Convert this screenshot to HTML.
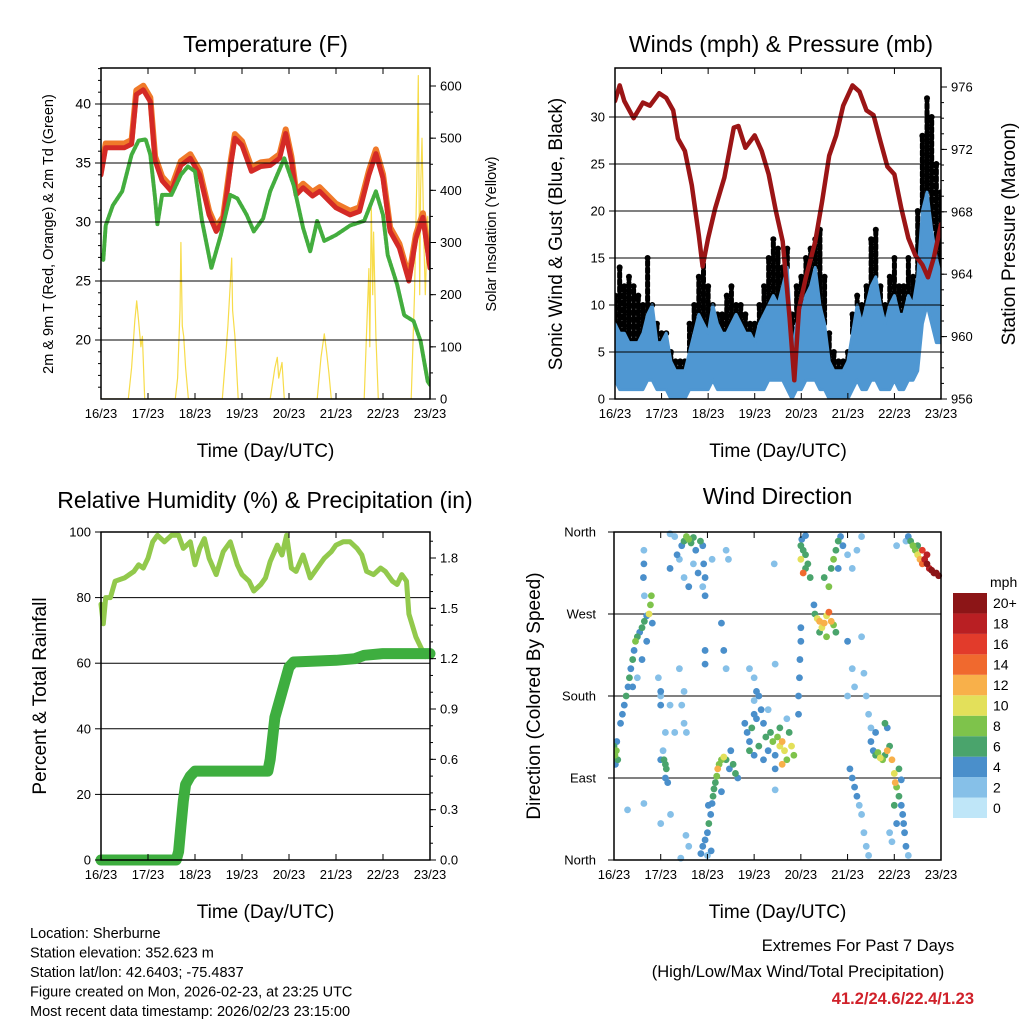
<!DOCTYPE html>
<html><head><meta charset="utf-8"><style>
html,body{margin:0;padding:0;background:#fff;}
svg{display:block;font-family:"Liberation Sans",sans-serif;}
</style></head><body>
<svg id="c" width="1024" height="1024" viewBox="0 0 1024 1024"></svg>
<script>
// ---------- DATA ----------
const dayLabels=["16/23","17/23","18/23","19/23","20/23","21/23","22/23","23/23"];
const tempT=[0,0.1,0.5,0.65,0.75,0.9,1.05,1.15,1.3,1.5,1.7,1.9,2.1,2.3,2.45,2.6,2.75,2.85,3.0,3.2,3.4,3.6,3.8,3.93,4.05,4.15,4.3,4.5,4.65,4.85,5.0,5.3,5.5,5.7,5.85,6.0,6.15,6.35,6.55,6.7,6.85,7.0];
const tempRed=[34,36.3,36.3,36.6,40.8,41.2,40.2,35.2,33.5,32.6,34.8,35.4,34.0,30.6,29.2,30.1,34.6,37.1,36.5,34.3,34.7,34.8,35.4,37.5,35.2,32.3,32.9,32.2,32.6,31.8,31.2,30.6,30.9,34.0,35.8,33.7,29.2,27.8,25.0,28.6,30.4,26.1];
const dewT=[0,0.05,0.1,0.25,0.45,0.65,0.8,0.95,1.05,1.15,1.2,1.3,1.5,1.7,1.85,2.0,2.15,2.35,2.55,2.75,2.9,3.1,3.25,3.45,3.6,3.9,4.1,4.3,4.45,4.6,4.75,5.0,5.3,5.6,5.85,6.0,6.1,6.3,6.45,6.65,6.8,6.95,7.0];
const dewVal=[27.2,26.8,29.7,31.4,32.6,35.7,36.9,37.0,35.7,32.0,29.8,32.3,32.3,34.0,34.7,34.3,30.1,26.1,28.9,32.3,32.0,30.6,29.2,30.3,32.6,35.4,33.1,29.5,27.5,30.1,28.4,28.9,29.7,30.1,32.6,30.6,27.2,24.7,22.1,21.6,19.9,16.5,16.2];
const solarT=[0,0.58,0.65,0.72,0.76,0.8,0.85,0.88,0.93,1.58,1.63,1.68,1.7,1.73,1.76,1.8,1.86,2.58,2.65,2.7,2.78,2.8,2.85,2.92,3.6,3.7,3.75,3.78,3.85,3.9,4.6,4.68,4.75,4.8,4.85,4.9,5.6,5.65,5.7,5.72,5.75,5.78,5.8,5.85,5.9,6.6,6.67,6.72,6.75,6.78,6.8,6.83,6.87,6.9,6.95,7.0];
const solarVal=[0,0,60,150,188,150,100,120,0,0,40,170,300,140,120,60,0,0,80,140,270,170,120,0,0,60,80,40,70,0,0,80,125,90,50,0,0,130,250,100,370,200,320,120,0,0,200,420,620,200,400,500,300,200,350,250];
const presT=[0,0.1,0.2,0.4,0.6,0.75,0.95,1.1,1.25,1.35,1.5,1.65,1.8,1.88,2.0,2.15,2.35,2.55,2.65,2.8,3.0,3.15,3.3,3.45,3.6,3.75,3.85,3.95,4.1,4.3,4.45,4.6,4.75,4.9,5.1,5.25,5.4,5.55,5.7,5.85,6.0,6.15,6.3,6.45,6.6,6.72,6.85,7.0];
const presVal=[975.1,976.1,975.1,974.0,975.0,974.8,975.6,975.3,974.5,972.7,971.9,969.7,966.5,964.5,966.3,968.2,970.2,973.4,973.5,972.1,972.9,971.9,970.4,968.1,966.1,961.2,957.2,961.8,963.8,966.1,968.7,971.6,972.9,974.8,976.1,975.7,974.5,974.2,972.5,970.9,970.4,968.2,966.3,965.2,964.6,963.8,965.1,967.2];
// wind sampled every 0.1 day
const gustVal=[11,14,12,13,12,11,10,15,10,8,7,7,5,4,4,4,8,10,13,15,12,10,9,9,11,12,10,10,9,8,8,10,12,15,17,16,14,16,9,12,13,15,16,17,18,13,7,5,4,4,5,9,11,10,12,17,18,12,10,13,15,12,12,15,13,20,28,32,30,25,22];
const windMax=[8,7,7,6,6,6,7,9,10,6,6,7,4,3,3,3,5,7,9,8,7,10,8,7,7,8,9,8,7,7,6,8,9,10,11,10,12,14,5,8,9,11,12,14,10,8,4,3,3,3,4,7,10,8,10,12,13,10,8,10,11,9,9,11,10,13,20,22,18,15,13];
const windMin=[2,1,1,1,1,1,1,2,2,1,1,1,0,0,0,0,1,1,1,1,1,2,1,1,1,1,1,1,1,1,1,1,1,2,2,2,2,1,0,1,1,2,2,2,1,1,0,0,0,0,0,1,2,1,1,2,2,1,1,1,2,1,1,2,2,3,8,10,8,6,6];
const rhT=[0,0.05,0.1,0.2,0.3,0.5,0.7,0.8,0.9,1.0,1.1,1.2,1.35,1.5,1.65,1.75,1.9,2.0,2.1,2.2,2.3,2.45,2.6,2.75,2.9,3.0,3.15,3.25,3.4,3.5,3.6,3.75,3.85,3.95,4.05,4.15,4.3,4.45,4.6,4.75,4.9,5.0,5.15,5.3,5.45,5.55,5.65,5.8,5.95,6.05,6.2,6.3,6.4,6.5,6.55,6.7,6.8,6.9,7.0];
const rhVal=[78,72,80,80,85,86,88,90,89,92,97,99,97,99,99,95,97,90,95,98,92,87,94,97,90,87,85,82,84,86,91,96,93,99,89,88,93,86,89,92,94,96,97,97,95,93,88,87,89,88,85,84,87,85,75,68,65,62,63];
const rainT=[0,1.6,1.65,1.7,1.75,1.8,1.9,2.0,3.55,3.6,3.7,3.8,3.9,4.0,4.1,5.0,5.4,5.6,6.0,7.0];
const rainVal=[0,0,0.05,0.2,0.35,0.45,0.5,0.53,0.53,0.6,0.85,0.95,1.05,1.15,1.18,1.19,1.2,1.22,1.23,1.23];
const dirPts=[[0.0,125,6],[0.02,115,7],[0.05,120,8],[0.08,110,5],[0.03,105,4],[0.06,130,4],
[0.14,150,4],[0.18,160,3],[0.22,170,4],[0.26,180,6],[0.3,190,4],[0.33,200,5],[0.36,210,4],[0.4,220,6],[0.43,230,4],[0.46,240,7],[0.5,245,6],[0.55,250,4],[0.6,255,5],[0.65,262,6],[0.7,268,4],[0.75,270,10],[0.78,280,8],[0.8,290,7],[0.82,260,4],[0.7,240,4],[0.6,220,3],[0.5,200,2],[0.4,190,3],
[0.64,340,2],[0.64,325,3],[0.63,310,3],[0.65,290,1],[0.95,200,1],[1.0,180,2],[1.1,140,1],[1.2,170,2],[1.05,120,2],[1.0,110,3],
[1.07,110,6],[1.1,105,6],[1.12,100,5],[1.1,90,4],[1.15,85,3],[0.64,62,2],[0.29,55,1],[1.0,40,1],[1.21,50,1],[1.54,27,1],[1.6,15,2],[1.43,2,2],
[1.5,350,6],[1.55,355,7],[1.6,352,8],[1.65,348,6],[1.7,354,5],[1.85,350,6],[1.9,345,4],[1.45,345,3],[1.75,340,4],[1.3,355,2],[1.2,358,2],[1.35,335,3],[1.4,330,2],[1.2,320,3],[1.5,310,2],[1.6,300,3],[1.7,325,2],[1.8,315,3],[1.9,300,2],[2.1,330,2],[2.4,340,1],[2.45,330,1],
[1.92,325,4],[1.95,310,3],[1.95,290,3],[2.3,260,4],[2.35,230,3],[2.4,210,2],[1.95,230,4],[1.95,215,3],
[1.4,210,1],[1.5,185,1],[1.45,170,2],[1.5,150,1],[1.55,140,1],[1.3,140,2],[1.0,185,3],[1.0,170,3],
[1.86,7,4],[1.9,15,4],[1.95,22,4],[2.0,30,4],[2.03,40,5],[2.07,50,4],[2.1,62,4],[2.12,70,6],[2.14,78,6],[2.17,85,6],[2.2,92,7],[2.22,100,12],[2.25,105,8],[2.3,110,8],[2.35,113,10],[2.4,110,6],[2.47,100,4],[2.55,105,6],[2.6,95,6],[2.65,90,4],[2.3,75,3],[2.5,120,3],[2.0,5,2],[2.02,60,3],[2.08,10,3],
[2.8,150,4],[2.85,140,4],[2.9,130,4],[2.95,145,5],[3.0,160,4],[3.05,155,3],[3.0,175,2],[3.05,185,3],[3.1,180,4],[3.15,165,4],[3.2,150,4],[3.25,135,5],[2.9,120,6],[3.0,115,3],[3.1,125,5],[3.2,110,4],[3.3,120,4],[3.35,140,6],[3.4,130,7],[3.45,115,4],[3.5,135,8],[3.55,125,10],[3.6,130,12],[3.65,120,10],[3.7,110,8],[3.75,140,6],[3.8,125,10],[3.85,115,8],[3.6,105,12],[3.55,145,6],[3.45,100,4],[3.0,200,1],[2.9,210,1],[3.3,165,2],[3.7,155,2],
[3.45,215,2],[3.45,77,2],[3.95,160,4],[3.95,180,4],[3.97,200,4],[3.98,220,3],[4.0,240,4],[4.0,255,3],
[4.0,345,5],[4.05,340,6],[4.1,335,5],[4.0,330,10],[4.05,315,14],[4.1,320,5],[4.15,325,5],[4.2,310,6],[4.02,352,4],[4.1,356,4],[3.43,325,2],
[4.3,270,6],[4.35,265,10],[4.4,262,11],[4.45,255,9],[4.5,260,12],[4.55,268,10],[4.6,272,14],[4.65,262,11],[4.7,258,8],[4.75,250,6],[4.4,250,6],[4.55,245,7],[4.28,280,4],
[4.5,310,6],[4.6,300,7],[4.65,320,6],[4.7,330,7],[4.75,340,6],[4.8,350,5],[4.85,355,4],[4.8,320,3],[4.9,345,3],[5.0,335,2],[5.1,320,2],[5.2,340,2],[5.3,355,2],
[5.0,240,3],[5.1,210,2],[5.0,180,2],[5.15,190,2],[5.3,245,2],[5.35,205,2],[5.4,180,1],[5.45,160,2],[5.5,145,1],
[5.5,130,4],[5.55,120,4],[5.6,115,6],[5.65,118,8],[5.7,112,9],[5.75,110,8],[5.8,115,6],[5.85,120,12],[5.9,125,6],[5.8,150,6],[5.85,145,4],[5.6,140,4],
[5.05,100,4],[5.1,90,4],[5.15,80,3],[5.2,70,4],[5.25,60,2],[5.3,50,2],[5.35,30,1],[5.4,15,2],[5.45,5,1],
[5.95,110,12],[6.0,95,10],[6.02,85,12],[6.05,80,8],[6.1,70,6],[6.15,60,4],[6.18,50,4],[6.2,40,3],[6.22,30,3],[6.25,15,4],[6.3,5,2],[6.0,60,5],[6.05,40,4],[6.1,100,6],[6.15,88,4],[5.9,30,2],[5.95,20,2],
[6.3,355,4],[6.35,350,5],[6.4,345,8],[6.45,340,7],[6.5,335,9],[6.55,330,12],[6.6,325,14],[6.65,330,18],[6.7,325,20],[6.75,320,18],[6.8,318,22],[6.85,315,20],[6.9,315,22],[6.95,312,20],[6.6,340,16],[6.7,335,18],[6.5,345,6],[6.25,350,2],[6.05,345,2]];
const cbLabels=["0","2","4","6","8","10","12","14","16","18","20+"];
const cbColors=["#bfe6f8","#86c0e8","#4a8fcb","#4aa46c","#7ec34b","#e3e05a","#f8b04a","#f0692e","#e23b2b","#b91f23","#8c1517"];

// ---------- HELPERS ----------
const NS="http://www.w3.org/2000/svg";const svg=document.getElementById('c');
function mk(tag,attrs,parent){const e=document.createElementNS(NS,tag);for(const k in attrs)e.setAttribute(k,attrs[k]);(parent||svg).appendChild(e);return e;}
function txt(x,y,s,size,anchor,parent,extra){const e=mk('text',Object.assign({x:x,y:y,'font-size':size,'text-anchor':anchor||'middle',fill:'#000'},extra||{}),parent);e.textContent=s;return e;}
function lin(x0,x1,v0,v1){return v=>x0+(v-v0)/(v1-v0)*(x1-x0);}
function poly(xs,ys,fx,fy,attrs,parent){return mk('polyline',Object.assign({points:xs.map((t,i)=>fx(t).toFixed(1)+','+fy(ys[i]).toFixed(1)).join(' '),fill:'none','stroke-linejoin':'round','stroke-linecap':'round'},attrs),parent);}

function frame(name){
  const g=mk('g',{});return g;}
function xAxis(g,L,R,T,B){
  const fx=lin(L,R,0,7);
  for(let i=0;i<8;i++){const x=fx(i);
    mk('line',{x1:x,x2:x,y1:B,y2:B-6,stroke:'#000','stroke-width':1},g);
    mk('line',{x1:x,x2:x,y1:T,y2:T+6,stroke:'#000','stroke-width':1},g);
    const t=txt(x,B+19,dayLabels[i],13,'middle',g);}
  const xl=txt((L+R)/2,B+58,"Time (Day/UTC)",19,'middle',g);
  return fx;}
function yTicks(g,x,side,fy,vals,labels,minor,size,off){
  const d=side<0?-1:1;const o=off||10;
  vals.forEach((v,i)=>{const y=fy(v);mk('line',{x1:x,x2:x+d*6,y1:y,y2:y,stroke:'#000'},g);
    const t=txt(x+d*o,y+4.5,labels[i],size||13,d<0?'end':'start',g);});
  (minor||[]).forEach(v=>{const y=fy(v);mk('line',{x1:x,x2:x+d*3,y1:y,y2:y,stroke:'#000'},g);});}
function border(g,L,R,T,B){const r=mk('rect',{x:L,y:T,width:R-L,height:B-T,fill:'none',stroke:'#000','stroke-width':1.5},g);}
function grid(g,L,R,fy,vals){vals.forEach(v=>{mk('line',{x1:L,x2:R,y1:fy(v),y2:fy(v),stroke:'#000','stroke-width':1},g);});}
function range(a,b,s){const r=[];for(let v=a;v<=b+1e-9;v+=s)r.push(+v.toFixed(3));return r;}

// ---------- PANEL 1: TEMPERATURE ----------
(function(){
  const L=101,R=430,T=68,B=399;const g=frame('temperature-panel');
  const fx=lin(L,R,0,7),fy=lin(340,104,20,40),fs=lin(399,86,0,600);
  const cp=mk('clipPath',{id:'cp1'},g);mk('rect',{x:L,y:T,width:R-L,height:B-T},cp);
  const d=mk('g',{'clip-path':'url(#cp1)'},g);
  const s=poly(solarT,solarVal,fx,fs,{stroke:'#f7dc4a','stroke-width':1.2},d);
  grid(g,L,R,fy,[20,25,30,35,40]);
  const o=poly(tempT,tempRed.map(v=>v+0.35),fx,fy,{stroke:'#f07a2a','stroke-width':6},d);
  const r=poly(tempT,tempRed,fx,fy,{stroke:'#d42a26','stroke-width':5},d);
  const gr=poly(dewT,dewVal,fx,fy,{stroke:'#43ad3e','stroke-width':4,'stroke-dasharray':'3 1.5'},d);
  border(g,L,R,T,B);xAxis(g,L,R,T,B);
  yTicks(g,L,-1,fy,[20,25,30,35,40],["20","25","30","35","40"],range(16,43,1),14);
  yTicks(g,R,1,fs,[0,100,200,300,400,500,600],["0","100","200","300","400","500","600"],range(50,600,50),13);
  const tt=txt((L+R)/2,52,"Temperature (F)",23,'middle',g);
  const yl=txt(0,0,"2m & 9m T (Red, Orange) & 2m Td (Green)",14.5,'middle',g,{transform:'translate(53,234) rotate(-90)'});
  const yr=txt(0,0,"Solar Insolation (Yellow)",14.5,'middle',g,{transform:'translate(496,234) rotate(-90)'});
})();

// ---------- PANEL 2: WINDS ----------
(function(){
  const L=615,R=941,T=68,B=399;const g=frame('winds-panel');
  const fx=lin(L,R,0,7),fy=lin(399,117,0,30),fp=lin(399,87,956,976);
  const cp=mk('clipPath',{id:'cp2'},g);mk('rect',{x:L,y:T,width:R-L,height:B-T},cp);
  const d=mk('g',{'clip-path':'url(#cp2)'},g);
  grid(g,L,R,fy,[5,10,15,20,25,30]);
  gustVal.forEach((v,i)=>{const x=fx(i*0.1);
    const b=mk('line',{x1:x,x2:x,y1:fy(windMax[i]),y2:fy(v),stroke:'#000','stroke-width':5,'stroke-linecap':'round','stroke-dasharray':'4 3'},d);
    
    const c=mk('circle',{cx:x,cy:fy(v),r:3,fill:'#000'},d);
    });
  const pts=windMax.map((v,i)=>fx(i*0.1)+','+fy(v)).concat(windMin.map((v,i)=>[i,v]).reverse().map(a=>fx(a[0]*0.1)+','+fy(a[1]))).join(' ');
  const w=mk('polygon',{points:pts,fill:'#4f97d2',stroke:'#4f97d2','stroke-width':3,'stroke-linejoin':'round'},d);
  const p=poly(presT,presVal,fx,fp,{stroke:'#9b1516','stroke-width':4.5},d);
  border(g,L,R,T,B);xAxis(g,L,R,T,B);
  yTicks(g,L,-1,fy,[0,5,10,15,20,25,30],["0","5","10","15","20","25","30"],[],13);
  yTicks(g,R,1,fp,[956,960,964,968,972,976],["956","960","964","968","972","976"],range(957,975,1),13);
  const tt=txt((L+R)/2+3,52,"Winds (mph) & Pressure (mb)",23,'middle',g);
  const yl=txt(0,0,"Sonic Wind & Gust (Blue, Black)",19,'middle',g,{transform:'translate(562,234) rotate(-90)'});
  const yr=txt(0,0,"Station Pressure (Maroon)",19,'middle',g,{transform:'translate(1015,234) rotate(-90)'});
})();

// ---------- PANEL 3: RH & PRECIP ----------
(function(){
  const L=101,R=430,T=532,B=860;const g=frame('humidity-panel');
  const fx=lin(L,R,0,7),fy=lin(860,532,0,100),fr=lin(860,558,0,1.8);
  grid(g,L,R,fy,[20,40,60,80]);
  const h=poly(rhT,rhVal,fx,fy,{stroke:'#92c94c','stroke-width':5},g);
  const rn=poly(rainT,rainVal,fx,fr,{stroke:'#3eae3f','stroke-width':11},g);
  border(g,L,R,T,B);xAxis(g,L,R,T,B);
  yTicks(g,L,-1,fy,[0,20,40,60,80,100],["0","20","40","60","80","100"],[],13);
  yTicks(g,R,1,fr,[0,0.3,0.6,0.9,1.2,1.5,1.8],["0.0","0.3","0.6","0.9","1.2","1.5","1.8"],range(0.1,1.9,0.1),13);
  const tt=txt(265,508,"Relative Humidity (%) & Precipitation (in)",23,'middle',g);
  const yl=txt(0,0,"Percent & Total Rainfall",19,'middle',g,{transform:'translate(46,696) rotate(-90)'});
})();

// ---------- PANEL 4: WIND DIRECTION ----------
(function(){
  const L=614,R=941,T=532,B=860;const g=frame('wind-direction-panel');
  const fx=lin(L,R,0,7),fy=lin(860,532,0,360);
  grid(g,L,R,fy,[90,180,270]);
  const cp=mk('clipPath',{id:'cp4'},g);mk('rect',{x:L,y:T-4,width:R-L+4,height:B-T+8},cp);
  const d=mk('g',{'clip-path':'url(#cp4)'},g);
  const order=dirPts.slice().sort((a,b)=>a[2]-b[2]);
  order.forEach(p=>{const ci=Math.min(10,Math.max(0,Math.round(p[2]/2)));
    const c=mk('circle',{cx:fx(p[0]),cy:fy(p[1]),r:3.4,fill:cbColors[ci]},d);
    });
  border(g,L,R,T,B);xAxis(g,L,R,T,B);
  yTicks(g,L,-1,fy,[0,90,180,270,360],["North","East","South","West","North"],[],13,18);
  const tt=txt((L+R)/2,504,"Wind Direction",23,'middle',g);
  const yl=txt(0,0,"Direction (Colored By Speed)",19,'middle',g,{transform:'translate(540,696) rotate(-90)'});
  const cb=mk('g',{},g);
  const top=593,bot=818,h=(bot-top)/11;
  cbColors.forEach((c,i)=>{const y=bot-(i+1)*h;
    const r=mk('rect',{x:953,y:y,width:34,height:h,fill:c},cb);
    const t=txt(993,y+h/2+5,cbLabels[i],14,'start',cb);});
  const u=txt(990,587,"mph",14,'start',cb);
})();

// ---------- FOOTER ----------
(function(){
  const g=mk('g',{});
  ["Location: Sherburne","Station elevation: 352.623 m","Station lat/lon: 42.6403; -75.4837","Figure created on Mon, 2026-02-23, at 23:25 UTC","Most recent data timestamp: 2026/02/23 23:15:00"].forEach((s,i)=>{txt(30,938+i*19.5,s,14.5,'start',g);});
  const e=mk('g',{});
  txt(858,951,"Extremes For Past 7 Days",16.5,'middle',e);
  txt(798,977,"(High/Low/Max Wind/Total Precipitation)",16.5,'middle',e);
  txt(974,1004,"41.2/24.6/22.4/1.23",16.5,'end',e,{fill:'#d0212a','font-weight':'bold'});
})();
</script>
</body></html>
